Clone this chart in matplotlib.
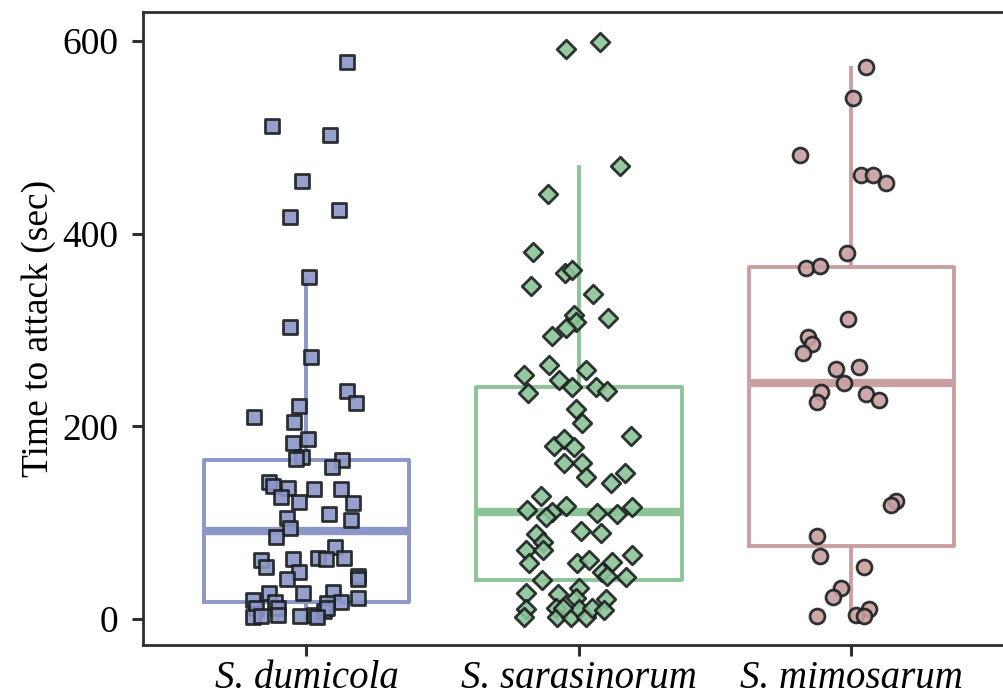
import numpy as np
import matplotlib
matplotlib.use("Agg")
import matplotlib.pyplot as plt

species = ["S. dumicola", "S. sarasinorum", "S. mimosarum"]
colors = ["#8c96c8", "#8cc498", "#c9a0a2"]
markers = ["s", "D", "o"]

# box summary (sec): lower whisker, q1, median, q3, upper whisker
whislo = [0, 0, 3]
q1 = [18, 40, 76]
med = [91, 111, 245]
q3 = [165, 241, 365]
whishi = [352, 469, 572]

# jittered points: x position in category units, time in sec
dum_x = [1.150, 0.872, 1.088, 0.982, 1.121, 0.941, 1.011, 0.941, 1.018, 1.147, 1.183,
         0.806, 0.971, 0.956, 0.952, 1.004, 0.982, 0.963, 1.132, 1.092, 0.864, 0.879,
         0.934, 1.029, 1.128, 0.905, 1.172, 0.971, 0.930, 1.084, 1.165, 0.941, 0.890,
         1.103, 0.832, 0.850, 0.949, 1.044, 1.073, 1.136, 0.971, 0.930, 1.190, 1.190,
         0.864, 0.989, 1.099, 0.802, 0.886, 1.125, 1.190, 1.077, 0.813, 0.894, 0.802,
         0.832, 0.897, 0.978, 1.026, 1.066, 1.077, 1.040]
dum_y = [578, 512, 502, 455, 424, 417, 355, 303, 272, 237, 224, 210, 221, 204, 183, 187,
         168, 166, 165, 158, 142, 138, 136, 135, 135, 127, 120, 121, 105, 109, 103, 94,
         85, 75, 61, 54, 62, 63, 62, 63, 49, 41, 45, 42, 27, 27, 28, 20, 18, 18, 22, 17,
         11, 11, 2, 3, 4, 3, 4, 8, 11, 2]

sar_x = [1.952, 2.077, 2.150, 1.886, 1.832, 1.949, 1.974, 1.824, 2.051, 2.106, 1.982,
         1.989, 1.952, 1.901, 1.890, 2.026, 1.799, 1.927, 1.974, 2.062, 2.103, 1.813,
         1.989, 2.011, 2.190, 1.908, 1.945, 1.982, 1.945, 2.011, 2.026, 2.168, 2.117,
         1.861, 1.810, 1.901, 1.952, 1.879, 2.066, 2.139, 2.194, 1.842, 2.007, 2.081,
         1.868, 1.806, 1.868, 1.817, 1.993, 2.037, 2.121, 2.194, 2.084, 2.103, 2.172,
         1.864, 1.806, 1.923, 2.000, 1.989, 2.099, 1.806, 1.799, 1.916, 1.919, 1.971,
         2.000, 2.026, 2.048, 2.092, 1.941]
sar_y = [592, 599, 470, 441, 381, 359, 362, 346, 337, 312, 316, 308, 302, 294, 264, 258,
         253, 248, 241, 241, 237, 235, 218, 203, 190, 180, 187, 179, 162, 162, 147, 151,
         141, 128, 113, 111, 117, 106, 110, 109, 116, 88, 91, 89, 80, 72, 72, 58, 58, 61,
         59, 66, 49, 45, 44, 40, 27, 26, 32, 22, 21, 10, 2, 11, 2, 2, 10, 2, 11, 9, 11]

mim_x = [3.055, 3.004, 2.810, 3.037, 3.081, 3.128, 2.982, 2.832, 2.886, 2.989, 2.839,
         2.857, 2.824, 2.945, 3.029, 2.974, 2.890, 3.055, 3.103, 2.872, 3.165, 3.147,
         2.872, 2.883, 3.048, 2.960, 2.934, 2.872, 3.066, 3.018, 3.048]
mim_y = [573, 541, 482, 461, 461, 453, 380, 364, 366, 311, 293, 285, 276, 259, 261, 245,
         236, 234, 227, 225, 122, 118, 86, 65, 54, 32, 23, 3, 10, 4, 3]

plt.rcParams['font.family'] = ['Liberation Serif', 'DejaVu Serif']

fig = plt.figure(figsize=(10.04, 6.96), dpi=100)
ax = fig.add_axes([0.1424, 0.0733, 0.8576, 0.9095])

stats = []
for i in range(3):
    stats.append(dict(whislo=whislo[i], q1=q1[i], med=med[i], q3=q3[i],
                      whishi=whishi[i], fliers=[]))

for i in range(3):
    ax.bxp([stats[i]], positions=[i + 1], widths=0.755, showcaps=False,
           showfliers=False,
           boxprops=dict(color=colors[i], lw=2.8),
           whiskerprops=dict(color=colors[i], lw=2.8),
           medianprops=dict(color=colors[i], lw=6, solid_capstyle='butt'),
           zorder=1)

pts = [(dum_x, dum_y, 100), (sar_x, sar_y, 90), (mim_x, mim_y, 115)]
for i, (xs, ys, s) in enumerate(pts):
    ax.scatter(xs, ys, s=s, marker=markers[i], facecolor=colors[i],
               edgecolor=(0.1, 0.12, 0.12, 0.9), linewidths=2.0, alpha=0.9,
               zorder=3)

ax.set_xlim(0.4, 3.56)
ax.set_ylim(-27, 630)
ax.set_xticks([1, 2, 3])
ax.set_xticklabels(species, style='italic', fontsize=28)
ax.set_yticks([0, 200, 400, 600])
ax.tick_params(axis='y', labelsize=27, length=8, width=2.2, color='#2b3030', pad=10)
ax.tick_params(axis='x', length=8, width=2.2, color='#2b3030', pad=3)
ax.set_ylabel('Time to attack (sec)', fontsize=27, labelpad=4)

for side in ['left', 'top', 'bottom']:
    ax.spines[side].set_linewidth(2.0)
    ax.spines[side].set_color('#2b3030')
ax.spines['right'].set_visible(False)

fig.savefig('out.png', dpi=100)
